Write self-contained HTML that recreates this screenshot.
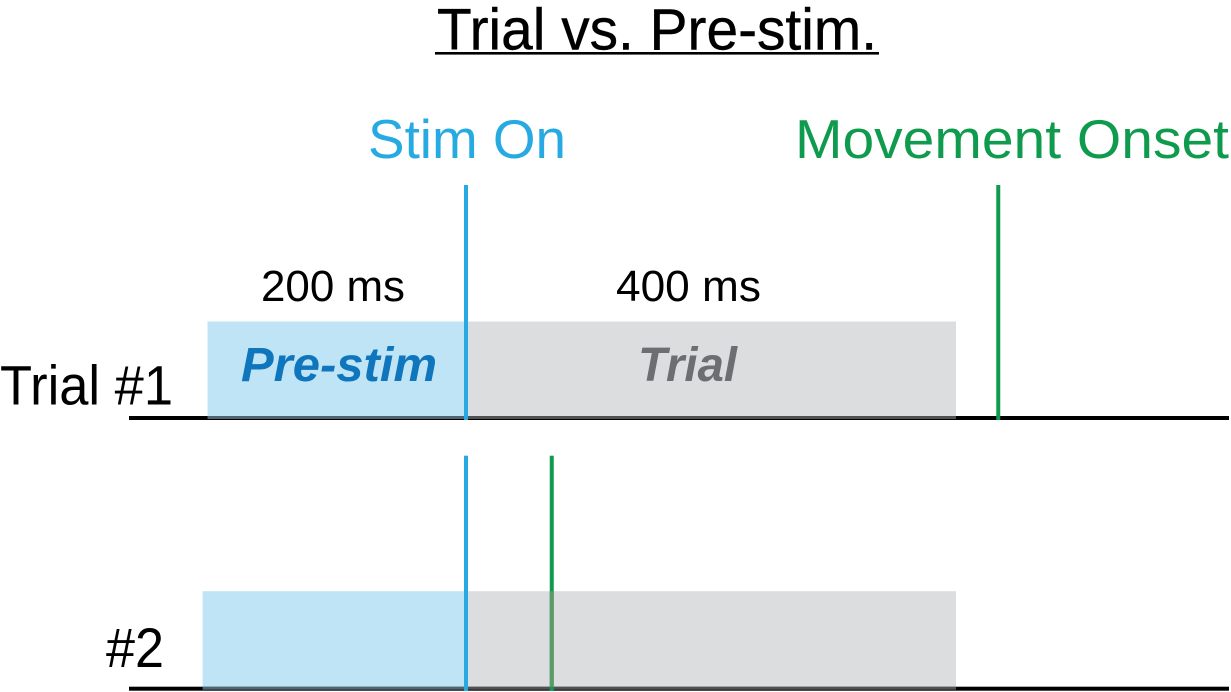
<!DOCTYPE html>
<html lang="en">
<head>
<meta charset="utf-8">
<title>Trial vs. Pre-stim.</title>
<style>
html,body{margin:0;padding:0;background:#fff;width:1231px;height:692px;overflow:hidden}
svg{display:block}
text{font-family:"Liberation Sans",sans-serif}
</style>
</head>
<body>
<svg id="chart" width="1231" height="692" viewBox="0 0 1231 692" xmlns="http://www.w3.org/2000/svg">
  <rect width="1231" height="692" fill="#fff"/>
  <g id="marks"></g>
  <text x="437" y="49.5" font-size="58" fill="#000" stroke="#000" stroke-width="0.4" textLength="440" lengthAdjust="spacingAndGlyphs">Trial vs. Pre-stim.</text>
  <rect x="435" y="52" width="444" height="2.6" fill="#000"/>
  <text x="368" y="158" font-size="55" fill="#27aae1" textLength="198" lengthAdjust="spacingAndGlyphs">Stim On</text>
  <text x="795" y="158" font-size="55" fill="#0f9b4e" textLength="434" lengthAdjust="spacingAndGlyphs">Movement Onset</text>
  <text x="261" y="301" font-size="44" fill="#000" textLength="144" lengthAdjust="spacingAndGlyphs">200 ms</text>
  <text x="616" y="301" font-size="44" fill="#000" textLength="145" lengthAdjust="spacingAndGlyphs">400 ms</text>
  <text x="0" y="404.5" font-size="56" fill="#000" textLength="173" lengthAdjust="spacingAndGlyphs">Trial #1</text>
  <text x="106" y="667" font-size="56" fill="#000" textLength="58" lengthAdjust="spacingAndGlyphs">#2</text>
  <text x="241" y="381" font-size="48" font-weight="bold" font-style="italic" fill="#0f75bc" textLength="196" lengthAdjust="spacingAndGlyphs">Pre-stim</text>
  <text x="638" y="381" font-size="48" font-weight="bold" font-style="italic" fill="#6d6e71" textLength="99" lengthAdjust="spacingAndGlyphs">Trial</text>
</svg>
<script>
var trials = ['trial-1', 'trial-2'];
var preStimStartMs = [-211, -215];
var trialEndMs = [400, 400];
var movementOnsetMs = [434.5, 70];

function xScale(ms) { return 466 + ms * 1.225; }
function rowBaseline(i) { return 418 + 270.7 * i; }

var marks = document.getElementById('marks');
var NS = 'http://www.w3.org/2000/svg';

function addRect(x, y, w, h, fill) {
  var r = document.createElementNS(NS, 'rect');
  r.setAttribute('x', x);
  r.setAttribute('y', y);
  r.setAttribute('width', w);
  r.setAttribute('height', h);
  r.setAttribute('fill', fill);
  marks.appendChild(r);
  return r;
}

trials.forEach(function (name, i) {
  var base = rowBaseline(i);
  var stimX = xScale(0);
  var startX = xScale(preStimStartMs[i]);
  var endX = xScale(trialEndMs[i]);
  var moveX = xScale(movementOnsetMs[i]);
  var bandTop = i === 0 ? base - 96.5 : base - 97.5;
  var bandBottom = base + 1;

  var axis = addRect(129, base - 2, 1100, 4, '#000');
  
  

  var pre = addRect(startX, bandTop, stimX - startX, bandBottom - bandTop - 3, '#bee4f5');
  
  

  var preEdge = addRect(startX, base - 2, stimX - startX, 3, '#4f6573');
  
  

  var trial = addRect(stimX, bandTop, endX - stimX, bandBottom - bandTop - 3, '#dcddde');
  
  

  var trialEdge = addRect(stimX, base - 2, endX - stimX, 3, '#505152');
  
  

  var stim = addRect(stimX - 2, base - 233, 4, 235, '#27aae1');
  
  

  var move = addRect(moveX - 2, base - 233, 4, 235, '#0f9b4e');
  
  

  if (movementOnsetMs[i] < trialEndMs[i]) {
    var overlap = addRect(moveX - 2, bandTop, 4, base - 2 - bandTop, '#5d9a68');
    
    
  }
});
</script>
</body>
</html>
